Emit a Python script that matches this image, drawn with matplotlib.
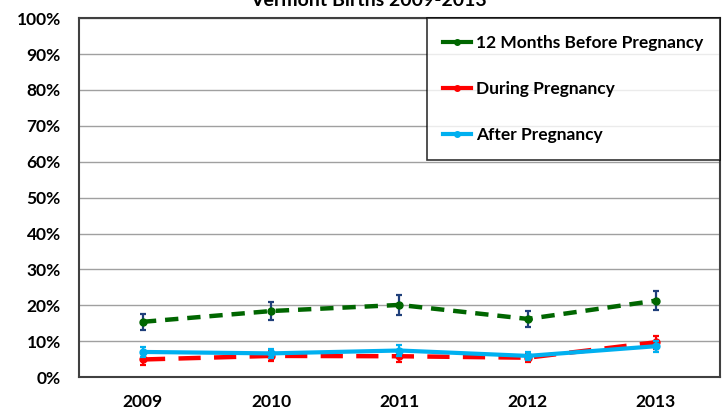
import numpy as np
import matplotlib.pyplot as plt
from matplotlib.lines import Line2D

# Datos
years = ["2009", "2010", "2011", "2012", "2013"]
before = [15.4, 18.4, 20.1, 16.2, 21.3]
before_err = [2.3, 2.4, 2.7, 2.3, 2.7]
during = [4.9, 5.9, 5.8, 5.4, 9.7]
during_err = [1.4, 1.3, 1.5, 1.3, 1.8]
after = [7.0, 6.6, 7.4, 5.9, 8.6]
after_err = [1.3, 1.2, 1.4, 1.2, 1.5]

labels = ['12 Months Before Pregnancy', 'During Pregnancy', 'After Pregnancy']
colors = ['#006600', '#FF0000', '#00B0F0']

plt.rcParams['font.family'] = ['Lato', 'DejaVu Sans']

fig = plt.figure(figsize=(7.23, 4.13), dpi=100)
ax = fig.add_axes([0.109, 0.087, 0.887, 0.869])
x = np.arange(len(years))

ax.errorbar(x, before, yerr=before_err, color=colors[0], ecolor='#1F3F7A',
            linestyle=(0, (3, 2)), linewidth=3.2, marker='o', markersize=5,
            elinewidth=1.6, capsize=2.5, capthick=1.6, zorder=3)
ax.errorbar(x, during, yerr=during_err, color=colors[1], ecolor=colors[1],
            linestyle=(0, (5, 3)), linewidth=3.2, marker='o', markersize=5,
            elinewidth=1.6, capsize=2.5, capthick=1.6, zorder=4)
ax.errorbar(x, after, yerr=after_err, color=colors[2], ecolor=colors[2],
            linestyle='-', linewidth=3.0, marker='o', markersize=5,
            elinewidth=1.6, capsize=2.5, capthick=1.6, zorder=5)

ax.set_xlim(-0.5, 4.5)
ax.set_ylim(0, 100)
ax.set_xticks(x)
ax.set_xticklabels(years, fontsize=12.5, fontweight='bold')
ax.set_yticks(np.arange(0, 101, 10))
ax.set_yticklabels([f"{v}%" for v in range(0, 101, 10)], fontsize=12.5, fontweight='bold')
ax.tick_params(axis='y', length=0, pad=13)
ax.tick_params(axis='x', length=0, pad=12)
ax.grid(axis='y', color='#A0A0A0', linewidth=1)
ax.set_axisbelow(True)
for s in ax.spines.values():
    s.set_color('#404040')
    s.set_linewidth(1.5)

handles = [Line2D([], [], color=c, linewidth=3, marker='o', markersize=4) for c in colors]
leg = ax.legend(handles, labels, loc='upper right', bbox_to_anchor=(1.0, 1.0),
                frameon=True, fancybox=False, edgecolor='black',
                prop={'weight': 'bold', 'size': 12.5}, labelspacing=1.75,
                handlelength=1.6, handletextpad=0.3, borderpad=0.95,
                borderaxespad=0)
leg.get_frame().set_linewidth(1.2)

fig.text(0.51, 1.0, "Vermont Births 2009-2013", ha='center', va='center',
         fontsize=14, fontweight='bold')

fig.savefig("out.png", dpi=100)
